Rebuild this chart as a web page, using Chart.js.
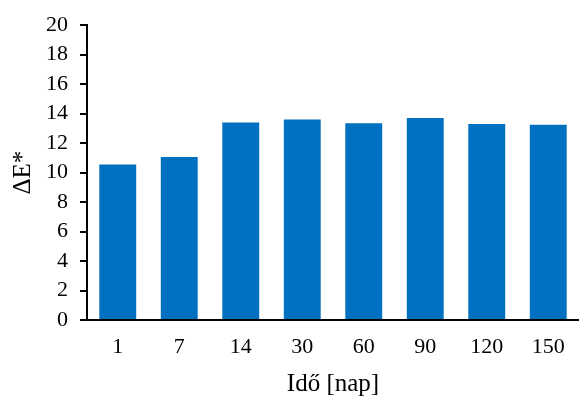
<!DOCTYPE html>
<html>
<head>
<meta charset="utf-8">
<script src="https://cdn.jsdelivr.net/npm/chart.js@4.4.1/dist/chart.umd.min.js"></script>
<style>
html,body{margin:0;padding:0;background:#fff;}
#wrap{width:579px;height:399px;position:relative;}
</style>
</head>
<body>
<div id="wrap"><canvas id="c" width="579" height="399"></canvas></div>
<script>
const categories = ['1', '7', '14', '30', '60', '90', '120', '150'];
const deltaE = [10.55, 11.05, 13.4, 13.6, 13.35, 13.7, 13.3, 13.25];
const yTicks = [0, 2, 4, 6, 8, 10, 12, 14, 16, 18, 20];
const xTitle = 'Idő [nap]';
const yTitle = 'ΔE*';

const font = 'Liberation Serif, Times New Roman, serif';
new Chart(document.getElementById('c'), {
  type: 'bar',
  data: {
    labels: categories,
    datasets: [{
      data: deltaE,
      backgroundColor: '#0070C0',
      borderWidth: 0,
      categoryPercentage: 0.6,
      barPercentage: 1.0
    }]
  },
  options: {
    responsive: false,
    animation: false,
    devicePixelRatio: 1,
    layout: { padding: { left: 0, top: 21, right: 0, bottom: 0 } },
    plugins: { legend: { display: false }, tooltip: { enabled: false } },
    scales: {
      x: {
        grid: { display: false, drawTicks: false },
        border: { display: true, color: '#000', width: 2 },
        ticks: { color: '#000', font: { family: font, size: 22 }, padding: 14, maxRotation: 0 },
        title: { display: true, text: xTitle, color: '#000', font: { family: font, size: 25 }, padding: { top: 6, bottom: 0 } },
        afterFit: (s) => { s.height = 79; }
      },
      y: {
        min: 0, max: 20,
        afterBuildTicks: (s) => { s.ticks = yTicks.map(v => ({ value: v })); },
        grid: { display: true, drawOnChartArea: false, drawTicks: true, tickLength: 7, color: '#000', lineWidth: 2 },
        border: { display: true, color: '#000', width: 2 },
        ticks: { color: '#000', font: { family: font, size: 22 }, padding: 12 },
        title: { display: true, text: yTitle, color: '#000', font: { family: font, size: 25 }, padding: { top: 8, bottom: 0 } },
        afterFit: (s) => { s.width = 87; }
      }
    }
  }
});
</script>
</body>
</html>
